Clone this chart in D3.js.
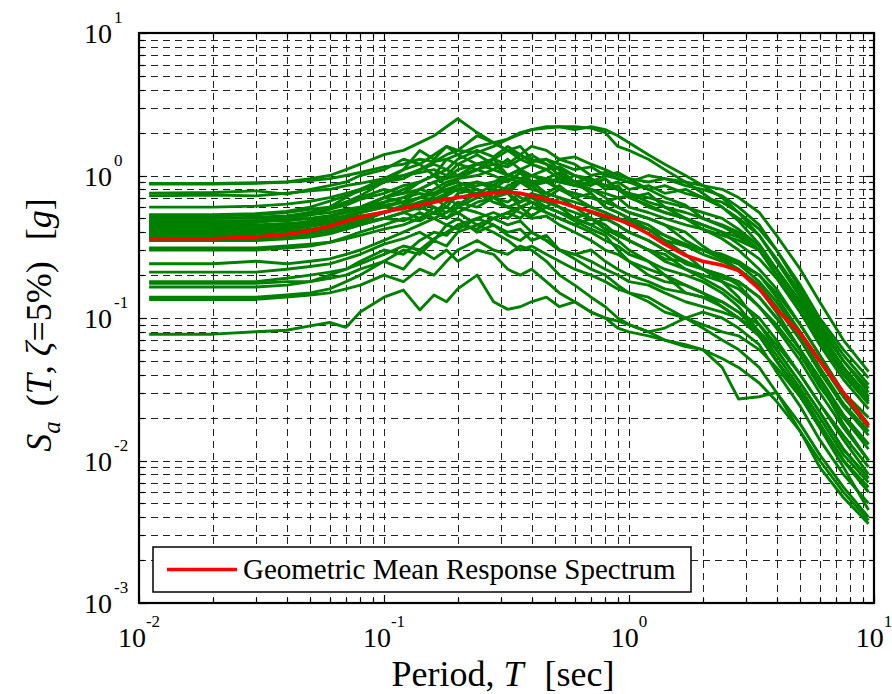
<!DOCTYPE html>
<html><head><meta charset="utf-8">
<script src="https://cdn.jsdelivr.net/npm/d3@7"></script>
<style>body{margin:0;background:#fff}svg{display:block}</style>
</head><body>
<svg id="chart" width="892" height="694"></svg>
<script>
const periods = [0.011,0.02,0.03,0.04,0.05,0.06,0.07,0.08,0.1,0.12,0.14,0.16,0.18,0.2,0.24,0.28,0.32,0.36,0.4,0.46,0.52,0.6,0.7,0.8,0.9,1.0,1.2,1.4,1.7,2.0,2.4,2.8,3.4,4.0,5.0,6.0,7.5,9.5];

const rec01 = [0.88,0.88,0.89,0.9,0.92,0.95,1.0,1.05,1.15,1.2,1.3,1.25,1.4,1.5,1.45,1.6,1.8,2.0,2.1,2.15,2.2,2.2,2.15,2.0,1.6,1.5,1.3,1.1,0.9,0.75,0.6,0.48,0.33,0.22,0.12,0.075,0.045,0.028];
const rec02 = [0.87,0.87,0.88,0.9,0.95,1.0,1.1,1.2,1.4,1.5,1.7,1.9,2.2,2.5,2.0,1.7,1.5,1.6,1.3,1.2,1.0,0.9,0.75,0.6,0.55,0.5,0.42,0.35,0.28,0.22,0.18,0.14,0.09,0.06,0.035,0.022,0.012,0.0075];
const rec03 = [0.75,0.76,0.78,0.74,0.8,0.85,0.9,1.0,1.1,1.3,1.2,1.4,1.6,1.5,1.9,1.7,1.5,1.3,1.4,1.2,1.1,1.0,0.95,0.8,0.85,0.7,0.62,0.55,0.5,0.42,0.36,0.3,0.22,0.16,0.09,0.055,0.03,0.018];
const rec04 = [0.72,0.73,0.72,0.75,0.78,0.8,0.85,0.88,0.95,1.0,1.05,1.1,1.0,1.2,1.1,1.3,1.2,1.4,1.25,1.3,1.2,1.1,1.15,1.0,1.05,0.95,0.9,0.95,0.85,0.8,0.72,0.6,0.45,0.3,0.17,0.1,0.06,0.038];
const rec05 = [0.6,0.6,0.61,0.63,0.66,0.7,0.75,0.8,0.9,0.95,1.1,1.2,1.1,1.3,1.5,1.35,1.6,1.4,1.25,1.3,1.1,0.9,0.8,0.7,0.6,0.55,0.5,0.45,0.4,0.32,0.26,0.22,0.16,0.11,0.06,0.035,0.018,0.01];
const rec06 = [0.53,0.53,0.54,0.56,0.6,0.66,0.72,0.78,0.9,1.0,1.1,1.25,1.3,1.4,1.6,1.7,1.8,1.95,2.1,2.2,2.2,2.1,2.2,2.1,1.9,1.7,1.4,1.2,1.0,0.85,0.7,0.55,0.38,0.25,0.14,0.085,0.05,0.032];
const rec07 = [0.52,0.52,0.53,0.55,0.58,0.6,0.65,0.7,0.8,0.75,0.9,1.0,0.85,0.95,1.1,1.0,0.9,1.05,0.85,0.7,0.6,0.5,0.45,0.4,0.35,0.3,0.25,0.22,0.2,0.18,0.15,0.12,0.08,0.05,0.028,0.017,0.009,0.0045];
const rec08 = [0.5,0.5,0.51,0.52,0.55,0.58,0.62,0.68,0.75,0.85,0.9,1.0,1.1,1.0,1.2,1.1,1.3,1.1,1.0,1.1,0.95,0.9,0.85,0.95,0.8,0.7,0.75,0.6,0.55,0.5,0.45,0.4,0.3,0.2,0.12,0.07,0.04,0.025];
const rec09 = [0.48,0.48,0.48,0.49,0.5,0.52,0.55,0.6,0.7,0.65,0.8,0.9,0.75,0.85,0.7,0.8,0.75,0.65,0.7,0.6,0.55,0.48,0.42,0.38,0.3,0.25,0.2,0.18,0.17,0.15,0.12,0.1,0.075,0.05,0.03,0.018,0.01,0.006];
const rec10 = [0.47,0.47,0.48,0.48,0.5,0.52,0.55,0.58,0.62,0.65,0.7,0.68,0.75,0.8,0.75,0.85,0.8,0.9,0.85,0.95,0.9,0.85,0.9,1.0,0.95,0.9,1.0,0.95,0.9,0.85,0.8,0.7,0.55,0.38,0.22,0.13,0.07,0.042];
const rec11 = [0.46,0.46,0.47,0.5,0.55,0.6,0.7,0.8,0.95,1.1,1.2,1.0,1.3,1.2,1.4,1.2,1.0,1.1,0.9,0.75,0.7,0.6,0.5,0.45,0.38,0.35,0.3,0.25,0.22,0.19,0.16,0.13,0.1,0.07,0.04,0.025,0.014,0.008];
const rec12 = [0.45,0.45,0.45,0.46,0.47,0.5,0.52,0.55,0.6,0.65,0.7,0.75,0.8,0.78,0.9,0.85,1.0,0.95,0.85,0.9,0.8,0.75,0.7,0.65,0.6,0.55,0.5,0.45,0.35,0.3,0.26,0.24,0.2,0.15,0.09,0.055,0.03,0.02];
const rec13 = [0.44,0.44,0.44,0.45,0.46,0.48,0.5,0.55,0.6,0.58,0.65,0.6,0.5,0.55,0.45,0.4,0.35,0.3,0.32,0.28,0.25,0.22,0.2,0.18,0.16,0.15,0.14,0.12,0.1,0.085,0.07,0.06,0.045,0.03,0.018,0.011,0.0065,0.004];
const rec14 = [0.43,0.43,0.44,0.45,0.48,0.52,0.56,0.6,0.7,0.75,0.8,0.9,0.95,1.0,1.1,1.2,1.15,1.3,1.2,1.1,1.15,1.0,0.9,0.85,0.8,0.75,0.65,0.6,0.5,0.45,0.4,0.33,0.26,0.19,0.11,0.07,0.04,0.026];
const rec15 = [0.42,0.42,0.43,0.44,0.45,0.47,0.5,0.52,0.55,0.6,0.58,0.65,0.7,0.62,0.75,0.7,0.8,0.7,0.65,0.6,0.55,0.5,0.55,0.5,0.45,0.4,0.35,0.3,0.24,0.22,0.2,0.17,0.12,0.09,0.055,0.033,0.02,0.012];
const rec16 = [0.41,0.41,0.41,0.42,0.44,0.46,0.5,0.55,0.65,0.7,0.8,0.75,0.85,0.9,0.8,0.7,0.75,0.6,0.65,0.55,0.5,0.45,0.4,0.35,0.32,0.28,0.25,0.2,0.15,0.14,0.13,0.11,0.09,0.065,0.04,0.025,0.015,0.009];
const rec17 = [0.4,0.4,0.4,0.41,0.42,0.44,0.47,0.5,0.55,0.6,0.62,0.68,0.72,0.8,0.85,0.9,1.0,1.1,1.2,1.1,1.3,1.2,1.0,1.05,0.95,0.9,0.8,0.85,0.75,0.7,0.6,0.5,0.38,0.26,0.15,0.09,0.05,0.03];
const rec18 = [0.39,0.39,0.39,0.4,0.41,0.42,0.44,0.47,0.5,0.55,0.5,0.6,0.55,0.65,0.6,0.7,0.65,0.75,0.7,0.65,0.6,0.55,0.5,0.42,0.4,0.35,0.3,0.26,0.25,0.22,0.19,0.18,0.14,0.1,0.06,0.035,0.02,0.013];
const rec19 = [0.38,0.38,0.38,0.39,0.4,0.42,0.45,0.48,0.55,0.6,0.65,0.7,0.6,0.75,0.8,0.7,0.85,0.9,0.8,0.75,0.85,0.7,0.6,0.55,0.5,0.48,0.42,0.35,0.32,0.3,0.28,0.25,0.2,0.14,0.08,0.05,0.028,0.017];
const rec20 = [0.37,0.37,0.37,0.38,0.39,0.4,0.42,0.45,0.5,0.55,0.6,0.55,0.65,0.7,0.75,0.65,0.6,0.55,0.5,0.52,0.45,0.4,0.35,0.3,0.28,0.25,0.22,0.2,0.17,0.15,0.13,0.11,0.08,0.055,0.032,0.02,0.011,0.007];
const rec21 = [0.36,0.36,0.36,0.37,0.38,0.4,0.43,0.47,0.55,0.62,0.7,0.8,0.9,0.95,1.0,1.1,1.0,0.95,1.0,0.9,0.95,0.85,0.8,0.75,0.7,0.72,0.6,0.55,0.5,0.45,0.4,0.37,0.3,0.22,0.13,0.08,0.045,0.028];
const rec22 = [0.35,0.35,0.35,0.36,0.37,0.39,0.42,0.45,0.5,0.48,0.55,0.5,0.45,0.5,0.4,0.45,0.38,0.35,0.4,0.35,0.3,0.26,0.22,0.2,0.17,0.15,0.13,0.11,0.1,0.09,0.08,0.075,0.06,0.045,0.028,0.018,0.01,0.0065];
const rec23 = [0.31,0.31,0.31,0.32,0.33,0.34,0.36,0.38,0.42,0.45,0.5,0.55,0.6,0.55,0.65,0.7,0.6,0.65,0.75,0.7,0.8,0.75,0.7,0.65,0.7,0.6,0.55,0.5,0.45,0.42,0.38,0.35,0.3,0.22,0.13,0.08,0.045,0.027];
const rec24 = [0.3,0.3,0.3,0.31,0.32,0.34,0.37,0.4,0.45,0.5,0.48,0.55,0.5,0.6,0.55,0.5,0.45,0.48,0.4,0.35,0.3,0.28,0.3,0.25,0.22,0.2,0.18,0.16,0.15,0.14,0.12,0.1,0.075,0.05,0.03,0.018,0.01,0.006];
const rec25 = [0.24,0.24,0.25,0.24,0.25,0.26,0.28,0.3,0.35,0.4,0.45,0.5,0.55,0.6,0.7,0.8,0.75,0.9,0.85,0.95,0.9,1.0,0.9,0.85,0.8,0.75,0.7,0.65,0.6,0.55,0.5,0.42,0.32,0.22,0.12,0.075,0.042,0.026];
const rec26 = [0.21,0.21,0.21,0.22,0.23,0.24,0.26,0.28,0.33,0.36,0.4,0.35,0.45,0.42,0.5,0.45,0.4,0.42,0.35,0.38,0.3,0.28,0.25,0.22,0.2,0.18,0.17,0.15,0.13,0.12,0.11,0.1,0.08,0.06,0.035,0.022,0.012,0.0075];
const rec27 = [0.18,0.18,0.18,0.19,0.2,0.21,0.22,0.24,0.28,0.32,0.3,0.36,0.4,0.45,0.42,0.5,0.55,0.6,0.52,0.6,0.55,0.5,0.45,0.5,0.45,0.4,0.35,0.3,0.25,0.22,0.2,0.18,0.14,0.1,0.06,0.038,0.021,0.013];
const rec28 = [0.175,0.175,0.175,0.18,0.18,0.19,0.2,0.22,0.25,0.22,0.3,0.26,0.3,0.25,0.3,0.28,0.22,0.2,0.22,0.18,0.15,0.13,0.11,0.1,0.085,0.08,0.075,0.07,0.065,0.06,0.052,0.045,0.035,0.026,0.016,0.01,0.006,0.0038];
const rec29 = [0.165,0.165,0.165,0.17,0.18,0.2,0.22,0.25,0.3,0.28,0.35,0.4,0.38,0.45,0.5,0.55,0.5,0.6,0.65,0.6,0.7,0.65,0.6,0.55,0.5,0.45,0.42,0.38,0.32,0.28,0.25,0.22,0.17,0.12,0.07,0.042,0.024,0.015];
const rec30 = [0.14,0.14,0.14,0.145,0.15,0.16,0.18,0.2,0.25,0.3,0.28,0.35,0.32,0.4,0.45,0.5,0.55,0.5,0.6,0.55,0.5,0.45,0.5,0.42,0.38,0.35,0.3,0.28,0.22,0.2,0.18,0.16,0.12,0.085,0.05,0.03,0.017,0.01];
const rec31 = [0.135,0.135,0.135,0.14,0.145,0.15,0.16,0.17,0.2,0.18,0.22,0.2,0.25,0.3,0.35,0.3,0.28,0.32,0.3,0.25,0.2,0.17,0.14,0.12,0.1,0.09,0.08,0.085,0.1,0.11,0.1,0.085,0.065,0.042,0.024,0.014,0.008,0.005];
const rec32 = [0.077,0.077,0.08,0.082,0.088,0.093,0.086,0.11,0.14,0.157,0.114,0.145,0.13,0.16,0.2,0.13,0.115,0.12,0.13,0.14,0.12,0.13,0.11,0.1,0.095,0.09,0.08,0.07,0.063,0.06,0.045,0.027,0.028,0.03,0.016,0.009,0.0055,0.0036];
const rec33 = [0.46,0.46,0.47,0.49,0.53,0.58,0.65,0.72,0.9,1.1,1.5,1.3,1.6,1.4,1.2,1.3,1.0,1.1,0.9,0.95,0.8,0.7,0.75,0.6,0.55,0.5,0.45,0.38,0.33,0.3,0.27,0.24,0.18,0.13,0.075,0.045,0.025,0.016];
const rec34 = [0.5,0.5,0.5,0.51,0.53,0.55,0.58,0.6,0.65,0.7,0.75,0.72,0.8,0.85,0.9,0.8,0.95,0.9,1.0,0.95,1.05,0.9,0.95,0.85,0.9,0.8,0.85,0.75,0.8,0.7,0.65,0.55,0.42,0.3,0.16,0.095,0.055,0.034];
const rec35 = [0.42,0.42,0.42,0.43,0.45,0.48,0.52,0.58,0.7,0.8,0.9,1.0,0.95,1.1,1.2,1.3,1.5,1.4,1.6,1.5,1.3,1.35,1.2,1.1,1.0,0.95,0.8,0.7,0.62,0.5,0.44,0.38,0.3,0.2,0.11,0.065,0.037,0.023];

const records = [rec01,rec02,rec03,rec04,rec05,rec06,rec07,rec08,rec09,rec10,rec11,rec12,rec13,rec14,rec15,rec16,rec17,rec18,rec19,rec20,rec21,rec22,rec23,rec24,rec25,rec26,rec27,rec28,rec29,rec30,rec31,rec32,rec33,rec34,rec35];

const geoMean = [0.36,0.36,0.37,0.385,0.41,0.44,0.48,0.51,0.555,0.59,0.62,0.65,0.68,0.70,0.73,0.755,0.765,0.75,0.72,0.68,0.65,0.6,0.56,0.52,0.49,0.46,0.39,0.33,0.275,0.25,0.235,0.215,0.16,0.115,0.078,0.05,0.03,0.0175];

const xTickExps = [-2,-1,0,1];
const yTickExps = [-3,-2,-1,0,1];
const legendLabel = "Geometric Mean Response Spectrum";

const svg = d3.select("#chart");
const L = 139, R = 874, T = 33, B = 603;
const x = d3.scaleLog().domain([0.01, 10]).range([L, R]);
const y = d3.scaleLog().domain([0.001, 10]).range([B, T]);
const serif = "'Liberation Serif','Times New Roman',serif";
const px = v => Math.round(v) + 0.5;

const xTicks = x.ticks();
const yTicks = y.ticks();

const grid = svg.append("g").attr("stroke", "#222").attr("stroke-width", 1).attr("stroke-dasharray", "7,5").attr("fill","none");
grid.selectAll("line.gx").data(xTicks.filter(d => x(d) > L + 0.5 && x(d) < R - 0.5)).join("line")
  .attr("x1", d => px(x(d))).attr("x2", d => px(x(d))).attr("y1", T).attr("y2", B);
grid.selectAll("line.gy").data(yTicks.filter(d => y(d) > T + 0.5 && y(d) < B - 0.5)).join("line")
  .attr("y1", d => px(y(d))).attr("y2", d => px(y(d))).attr("x1", L).attr("x2", R);

const isMajor = v => Math.abs(Math.log10(v) - Math.round(Math.log10(v))) < 1e-6;
const tk = svg.append("g").attr("stroke", "#000").attr("stroke-width", 1.2);
xTicks.forEach(v => {
  const len = isMajor(v) ? 8 : 5;
  tk.append("line").attr("x1", px(x(v))).attr("x2", px(x(v))).attr("y1", B).attr("y2", B - len);
  tk.append("line").attr("x1", px(x(v))).attr("x2", px(x(v))).attr("y1", T).attr("y2", T + len);
});
yTicks.forEach(v => {
  const len = isMajor(v) ? 8 : 5;
  tk.append("line").attr("y1", px(y(v))).attr("y2", px(y(v))).attr("x1", L).attr("x2", L + len);
  tk.append("line").attr("y1", px(y(v))).attr("y2", px(y(v))).attr("x1", R).attr("x2", R - len);
});

const line = d3.line().x((d, i) => x(periods[i])).y(d => y(d));
svg.append("clipPath").attr("id", "clip").append("rect").attr("x", L).attr("y", T).attr("width", R - L).attr("height", B - T);
const curves = svg.append("g").attr("clip-path", "url(#clip)");
curves.selectAll("path.rec").data(records).join("path")
  .attr("class", "rec").attr("d", line)
  .attr("fill", "none").attr("stroke", "#008000").attr("stroke-width", 2.9).attr("stroke-linejoin", "round");
curves.append("path").datum(geoMean).attr("d", line)
  .attr("fill", "none").attr("stroke", "#ff0000").attr("stroke-width", 3.6).attr("stroke-linejoin", "round");

svg.append("rect").attr("x", L).attr("y", T).attr("width", R - L).attr("height", B - T)
  .attr("fill", "none").attr("stroke", "#000").attr("stroke-width", 2.2);

yTickExps.forEach(e => {
  const yy = y(Math.pow(10, e));
  svg.append("text").attr("x", 112).attr("y", yy + 10).attr("text-anchor", "end")
    .attr("font-family", serif).attr("font-size", 28).text("10");
  svg.append("text").attr("x", 114).attr("y", yy - 10).attr("text-anchor", "start")
    .attr("font-family", serif).attr("font-size", 17).text(e < 0 ? "-" + (-e) : String(e));
});
xTickExps.forEach(e => {
  const t = svg.append("text").attr("x", x(Math.pow(10, e))).attr("y", 647).attr("text-anchor", "middle")
    .attr("font-family", serif).attr("font-size", 28);
  t.append("tspan").text("10");
  t.append("tspan").attr("dy", -20).attr("font-size", 17).text(e < 0 ? "-" + (-e) : String(e));
});

const xt = svg.append("text").attr("x", 503).attr("y", 686).attr("text-anchor", "middle")
  .attr("font-family", serif).attr("font-size", 36);
xt.append("tspan").text("Period, ");
xt.append("tspan").attr("font-style", "italic").text("T");
xt.append("tspan").attr("dx", 12).text(" [sec]");

const yt = svg.append("text").attr("transform", "translate(51,325) rotate(-90)").attr("text-anchor", "middle")
  .attr("font-family", serif).attr("font-size", 36);
yt.append("tspan").attr("font-style", "italic").text("S");
yt.append("tspan").attr("font-style", "italic").attr("font-size", 25).attr("dy", 9).text("a");
yt.append("tspan").attr("dy", -9).attr("dx", 6).text(" (");
yt.append("tspan").attr("font-style", "italic").text("T");
yt.append("tspan").text(", ");
yt.append("tspan").attr("font-style", "italic").text("ζ");
yt.append("tspan").text("=5%)");
yt.append("tspan").attr("dx", 12).text(" [");
yt.append("tspan").attr("font-style", "italic").text("g");
yt.append("tspan").text("]");

const lg = svg.append("g");
lg.append("rect").attr("x", 153).attr("y", 547).attr("width", 538).attr("height", 45)
  .attr("fill", "#fff").attr("stroke", "#000").attr("stroke-width", 1.5);
lg.append("line").attr("x1", 167).attr("x2", 237).attr("y1", 569.5).attr("y2", 569.5)
  .attr("stroke", "#ff0000").attr("stroke-width", 3.6);
lg.append("text").attr("x", 243).attr("y", 579).attr("font-family", serif).attr("font-size", 29)
  .text(legendLabel);
</script>
</body></html>
